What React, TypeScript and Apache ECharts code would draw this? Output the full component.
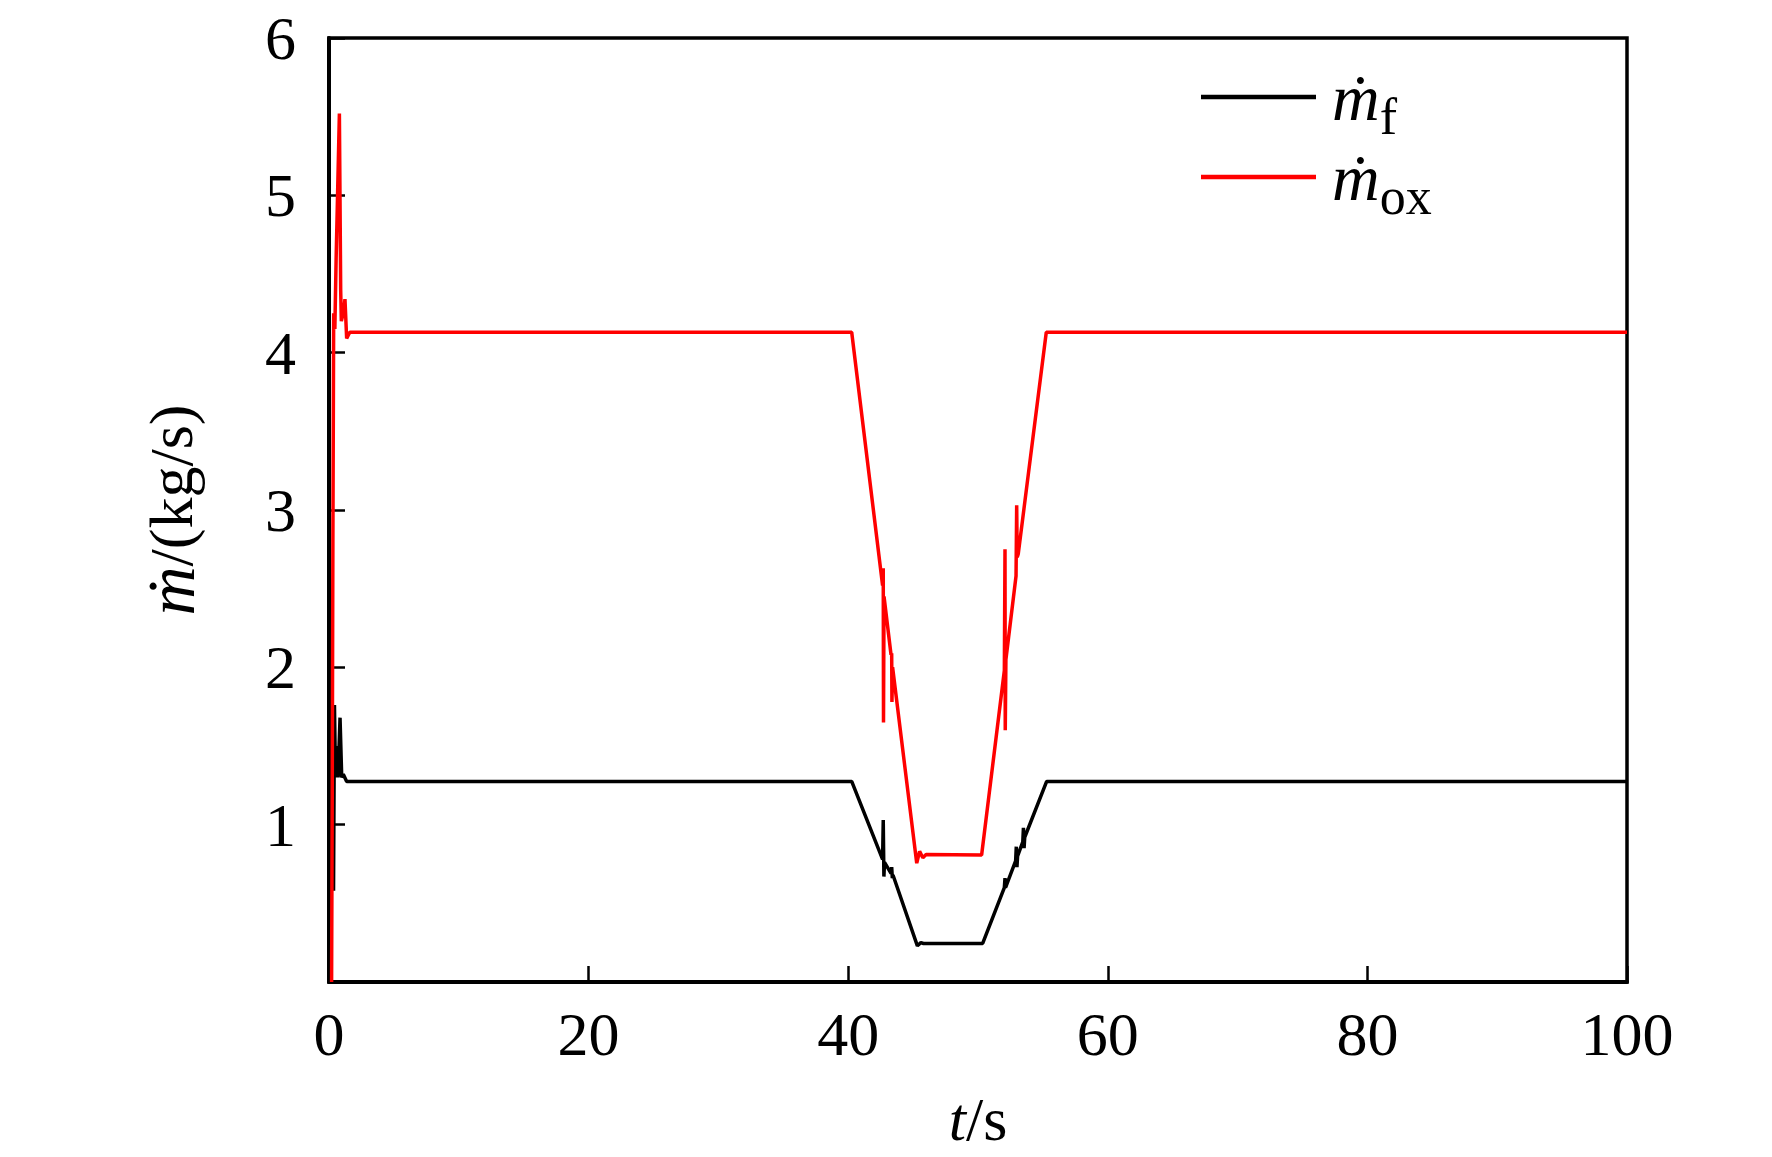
import React, { useEffect, useRef } from "react";
import * as echarts from "echarts";

const xTicks = [0, 20, 40, 60, 80, 100];
const yTicks = [0, 1, 2, 3, 4, 5, 6];

const seriesNames = ["mf", "mox"];

// ṁf : [t (s), value (kg/s)]
const fuelFlow: [number, number][] = [
  [0.35, 0.58], [0.42, 1.76], [0.5, 1.3], [0.6, 1.5], [0.7, 1.3], [0.85, 1.68],
  [0.98, 1.3], [1.1, 1.32], [1.36, 1.275],
  [40.27, 1.275], [42.65, 0.78], [42.7, 1.03], [42.75, 0.67], [42.8, 0.76],
  [43.3, 0.69], [43.35, 0.73], [43.4, 0.66], [43.45, 0.68],
  [45.33, 0.23], [45.6, 0.25], [45.8, 0.245], [50.36, 0.245],
  [52.03, 0.6], [52.08, 0.66], [52.12, 0.6],
  [52.9, 0.77], [52.95, 0.86], [53.0, 0.73], [53.05, 0.8],
  [53.45, 0.89], [53.5, 0.98], [53.55, 0.85], [53.6, 0.92],
  [55.29, 1.275], [100, 1.275],
];

// ṁox : [t (s), value (kg/s)]
const oxFlow: [number, number][] = [
  [0.2, 0], [0.25, 1.2], [0.3, 2.8], [0.36, 4.25], [0.45, 4.15], [0.55, 4.6],
  [0.8, 5.52], [0.9, 4.4], [0.95, 4.2], [1.1, 4.25], [1.23, 4.34], [1.36, 4.09],
  [1.6, 4.13], [40.27, 4.13],
  [42.65, 2.52], [42.7, 2.63], [42.72, 1.65], [42.76, 2.45],
  [43.3, 2.08], [43.35, 2.09], [43.37, 1.78], [43.42, 2.0],
  [45.28, 0.755], [45.5, 0.83], [45.75, 0.79], [46.0, 0.81], [50.28, 0.807],
  [52.03, 1.98], [52.08, 2.75], [52.1, 1.6], [52.15, 2.05],
  [52.93, 2.58], [52.98, 3.03], [53.02, 2.7], [53.1, 2.72],
  [55.26, 4.13], [100, 4.13],
];

const FONT = "'Liberation Serif', 'DejaVu Serif', serif";

export default function App() {
  const ref = useRef<HTMLDivElement>(null);

  useEffect(() => {
    document.body.style.margin = "0";
    if (!ref.current) return;
    const chart = echarts.init(ref.current, null, { renderer: "svg" });
    const legendRich = {
      m: {
        fontFamily: FONT,
        fontStyle: "italic",
        fontSize: 66,
        lineHeight: 60,
        color: "#000",
        padding: [0, 0, 0, 11],
      },
      s: {
        fontFamily: FONT,
        fontSize: 52,
        lineHeight: 30,
        padding: [38, 0, 0, 0],
        color: "#000",
      },
    };
    chart.setOption({
      animation: false,
      backgroundColor: "#fff",
      grid: {
        left: 329,
        top: 38,
        width: 1298,
        height: 944,
        show: true,
        borderColor: "#000",
        borderWidth: 3.5,
        containLabel: false,
      },
      legend: {
        orient: "vertical",
        left: 1196,
        top: 47,
        itemWidth: 115,
        itemHeight: 4.5,
        itemGap: -10,
        icon: "rect",
        data: seriesNames,
        formatter: (name: string) =>
          name === "mf" ? "{m|\u1E41}{s|f}" : "{m|\u1E41}{s|ox}",
        textStyle: { rich: legendRich },
      },
      xAxis: {
        type: "value",
        min: xTicks[0],
        max: xTicks[xTicks.length - 1],
        interval: 20,
        name: "{i|t}{n|/s}",
        nameLocation: "middle",
        nameGap: 106,
        nameTextStyle: {
          rich: {
            i: { fontFamily: FONT, fontStyle: "italic", fontSize: 62, color: "#000" },
            n: { fontFamily: FONT, fontSize: 62, color: "#000" },
          },
        },
        axisLine: { show: true, lineStyle: { color: "#000", width: 4 } },
        axisTick: { show: true, inside: true, length: 16, lineStyle: { color: "#000", width: 2.5 } },
        axisLabel: { fontFamily: FONT, fontSize: 62, color: "#000", margin: 21 },
        splitLine: { show: false },
      },
      yAxis: {
        type: "value",
        min: yTicks[0],
        max: yTicks[yTicks.length - 1],
        interval: 1,
        name: "{i|\u1E41}{n|/(kg/s)}",
        nameLocation: "middle",
        nameRotate: 90,
        nameGap: 124,
        nameTextStyle: {
          rich: {
            i: { fontFamily: FONT, fontStyle: "italic", fontSize: 68, color: "#000" },
            n: { fontFamily: FONT, fontSize: 62, color: "#000" },
          },
        },
        axisLine: { show: true, lineStyle: { color: "#000", width: 4 } },
        axisTick: { show: true, inside: true, length: 16, lineStyle: { color: "#000", width: 2.5 } },
        axisLabel: {
          fontFamily: FONT,
          fontSize: 62,
          color: "#000",
          margin: 33,
          formatter: (v: number) => (v === 0 ? "" : String(v)),
        },
        splitLine: { show: false },
      },
      series: [
        {
          name: seriesNames[0],
          type: "line",
          data: fuelFlow,
          symbol: "none",
          lineStyle: { color: "#000", width: 3.5 },
          itemStyle: { color: "#000" },
        },
        {
          name: seriesNames[1],
          type: "line",
          data: oxFlow,
          symbol: "none",
          lineStyle: { color: "#ff0000", width: 3.5 },
          itemStyle: { color: "#ff0000" },
        },
      ],
    });
    return () => chart.dispose();
  }, []);

  return <div ref={ref} style={{ width: 1772, height: 1157 }} />;
}
